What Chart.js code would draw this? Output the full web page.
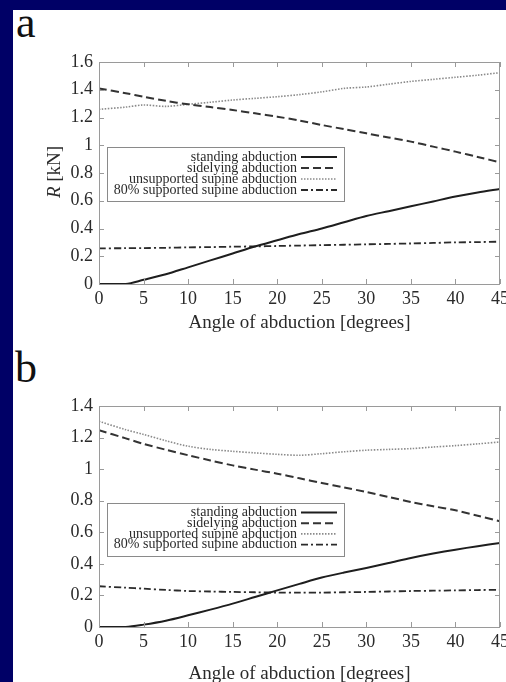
<!DOCTYPE html>
<html>
<head>
<meta charset="utf-8">
<script src="https://cdn.jsdelivr.net/npm/chart.js@4/dist/chart.umd.min.js"></script>
<style>
  html, body { margin: 0; padding: 0; width: 506px; height: 682px; overflow: hidden; background: #000066; }
  #panel { position: absolute; left: 13px; top: 10px; width: 493px; height: 672px; background: #fff; }
  .tag { position: absolute; font-family: "Liberation Serif", serif; font-size: 44px; line-height: 1; color: #111; }
  .box { position: absolute; left: 0; width: 520px; }
</style>
</head>
<body>
<div id="panel"></div>
<div class="tag" style="left:16px; top:1px;">a</div>
<div class="tag" style="left:15px; top:346px;">b</div>
<div class="box" style="top:0; height:340px;"><canvas id="chartA"></canvas></div>
<div class="box" style="top:340px; height:342px;"><canvas id="chartB"></canvas></div>

<script>
// angle of abduction (degrees)
const angles = [0, 3, 5, 7.5, 10, 12.5, 15, 17.5, 20, 22.5, 25, 27.5, 30, 32.5, 35, 37.5, 40, 42.5, 45];
const seriesNames = ['standing abduction', 'sidelying abduction', 'unsupported supine abduction', '80% supported supine abduction'];

// (a) joint reaction force R [kN]
const standingR = [0, 0, 0.03, 0.07, 0.12, 0.17, 0.22, 0.27, 0.315, 0.36, 0.40, 0.445, 0.49, 0.525, 0.56, 0.595, 0.63, 0.66, 0.685];
const sidelyingR = [1.41, 1.375, 1.35, 1.32, 1.295, 1.275, 1.254, 1.23, 1.206, 1.178, 1.146, 1.116, 1.086, 1.056, 1.026, 0.99, 0.954, 0.916, 0.877];
const unsupportedR = [1.259, 1.275, 1.29, 1.28, 1.295, 1.31, 1.326, 1.338, 1.35, 1.365, 1.385, 1.41, 1.42, 1.44, 1.46, 1.475, 1.49, 1.505, 1.523];
const supportedR = [0.257, 0.258, 0.259, 0.261, 0.264, 0.266, 0.269, 0.271, 0.274, 0.277, 0.28, 0.283, 0.286, 0.289, 0.292, 0.296, 0.30, 0.302, 0.305];

// (b) peak contact pressure p_max [MPa]
const standingP = [0, 0, 0.015, 0.04, 0.074, 0.11, 0.148, 0.19, 0.232, 0.273, 0.313, 0.345, 0.374, 0.405, 0.437, 0.465, 0.49, 0.512, 0.532];
const sidelyingP = [1.246, 1.195, 1.16, 1.123, 1.088, 1.055, 1.024, 0.997, 0.971, 0.942, 0.912, 0.884, 0.855, 0.824, 0.792, 0.765, 0.739, 0.705, 0.669];
const unsupportedP = [1.303, 1.25, 1.22, 1.18, 1.145, 1.125, 1.113, 1.103, 1.094, 1.088, 1.098, 1.11, 1.12, 1.125, 1.13, 1.14, 1.149, 1.16, 1.172];
const supportedP = [0.258, 0.249, 0.243, 0.235, 0.228, 0.225, 0.222, 0.22, 0.218, 0.218, 0.218, 0.22, 0.222, 0.225, 0.228, 0.23, 0.232, 0.234, 0.236];

const SERIF = '"Liberation Serif", "DejaVu Serif", serif';

// line styles like the gnuplot terminal
const lineStyles = [
  { color: '#1e1e1e', width: 2, dash: [] },
  { color: '#333', width: 2, dash: [8, 4] },
  { color: '#8a8a8a', width: 1.6, dash: [1.5, 1.5] },
  { color: '#2a2a2a', width: 1.8, dash: [7, 3, 2, 3] }
];

function makeDatasets(lists) {
  return lists.map((vals, i) => ({
    label: seriesNames[i],
    data: angles.map((a, k) => ({ x: a, y: vals[k] })),
    borderColor: lineStyles[i].color,
    borderWidth: lineStyles[i].width,
    borderDash: lineStyles[i].dash,
    pointRadius: 0,
    tension: 0.3,
    fill: false
  }));
}

// frame + inward tick marks on all four sides
const frameTicks = {
  id: 'frameTicks',
  afterDatasetsDraw(chart) {
    const { ctx, chartArea: ca, scales } = chart;
    ctx.save();
    ctx.strokeStyle = '#9a9a9a';
    ctx.lineWidth = 1;
    ctx.strokeRect(ca.left + 0.5, ca.top + 0.5, ca.right - ca.left - 1, ca.bottom - ca.top);
    ctx.beginPath();
    scales.x.ticks.forEach(t => {
      const px = Math.round(scales.x.getPixelForValue(t.value)) + 0.5;
      ctx.moveTo(px, ca.bottom); ctx.lineTo(px, ca.bottom - 5);
      ctx.moveTo(px, ca.top); ctx.lineTo(px, ca.top + 5);
    });
    scales.y.ticks.forEach(t => {
      const py = Math.round(scales.y.getPixelForValue(t.value)) + 0.5;
      ctx.moveTo(ca.left, py); ctx.lineTo(ca.left + 5, py);
      ctx.moveTo(ca.right, py); ctx.lineTo(ca.right - 5, py);
    });
    ctx.stroke();
    ctx.restore();
  }
};

// gnuplot style key: right aligned text, sample line to the right
const gpLegend = {
  id: 'gpLegend',
  afterDraw(chart, args, opts) {
    const { ctx, chartArea: ca } = chart;
    const x0 = ca.left + opts.dx, y0 = ca.top + opts.dy;
    ctx.save();
    ctx.strokeStyle = '#8a8a8a';
    ctx.lineWidth = 1;
    ctx.strokeRect(x0 + 0.5, y0 + 0.5, opts.w, opts.h);
    ctx.font = opts.fontSize + 'px ' + SERIF;
    ctx.textAlign = 'right';
    ctx.textBaseline = 'middle';
    chart.data.datasets.forEach((ds, i) => {
      const y = y0 + opts.first + i * opts.step;
      ctx.fillStyle = '#2a2a2a';
      ctx.fillText(ds.label, x0 + opts.textRight, y);
      ctx.beginPath();
      ctx.setLineDash(ds.borderDash);
      ctx.strokeStyle = ds.borderColor;
      ctx.lineWidth = ds.borderWidth;
      ctx.moveTo(x0 + opts.textRight + 4, y);
      ctx.lineTo(x0 + opts.textRight + 40, y);
      ctx.stroke();
    });
    ctx.restore();
  }
};

// rotated y title with italic symbol and optional subscript
const yTitle = {
  id: 'yTitle',
  afterDraw(chart, args, opts) {
    const { ctx } = chart;
    ctx.save();
    ctx.translate(opts.x, opts.y);
    ctx.rotate(-Math.PI / 2);
    ctx.fillStyle = '#2a2a2a';
    ctx.textBaseline = 'alphabetic';
    const parts = opts.parts;
    const fontOf = p => (p.italic ? 'italic ' : '') + (p.sub ? 14 : opts.size) + 'px ' + SERIF;
    let total = 0;
    parts.forEach(p => { ctx.font = fontOf(p); total += ctx.measureText(p.text).width; });
    let cx = -total / 2;
    parts.forEach(p => {
      ctx.font = fontOf(p);
      ctx.fillText(p.text, cx, p.sub ? 10 : 7);
      cx += ctx.measureText(p.text).width;
    });
    ctx.restore();
  }
};

function makeChart(id, lists, yMax, opt) {
  return new Chart(document.getElementById(id), {
    type: 'line',
    data: { datasets: makeDatasets(lists) },
    plugins: [frameTicks, gpLegend, yTitle],
    options: {
      responsive: true,
      maintainAspectRatio: false,
      animation: false,
      layout: { padding: { top: opt.top, right: 20, left: 0, bottom: 0 } },
      plugins: {
        legend: { display: false },
        tooltip: { enabled: false },
        gpLegend: opt.legend,
        yTitle: opt.yTitle
      },
      scales: {
        x: {
          type: 'linear', min: 0, max: 45,
          grid: { display: false, drawTicks: false },
          border: { display: false },
          afterFit(s) { s.height = opt.xHeight; },
          ticks: { stepSize: 5, padding: opt.xPad, color: '#2a2a2a', font: { family: SERIF, size: 18 } },
          title: { display: true, text: 'Angle of abduction [degrees]', color: '#2a2a2a',
                   font: { family: SERIF, size: 19 }, padding: { top: 0, bottom: opt.titlePad } }
        },
        y: {
          min: 0, max: yMax,
          grid: { display: false, drawTicks: false },
          border: { display: false },
          afterFit(s) { s.width = 99; },
          ticks: { stepSize: 0.2, padding: 6, color: '#2a2a2a', font: { family: SERIF, size: 18 },
                   callback: v => String(+v.toFixed(1)) }
        }
      }
    }
  });
}

makeChart('chartA', [standingR, sidelyingR, unsupportedR, supportedR], 1.6, {
  top: 62, xHeight: 56, xPad: 4, titlePad: 6,
  legend: { dx: 8, dy: 85, w: 237, h: 54, first: 10, step: 11, textRight: 190, fontSize: 14 },
  yTitle: { x: 53, y: 172, size: 19, parts: [{ text: 'R', italic: true }, { text: ' [kN]' }] }
});

makeChart('chartB', [standingP, sidelyingP, unsupportedP, supportedP], 1.4, {
  top: 66, xHeight: 55, xPad: 4, titlePad: -3,
  legend: { dx: 8, dy: 97, w: 237, h: 53, first: 9.5, step: 10.7, textRight: 190, fontSize: 14 },
  yTitle: { x: 48, y: 520, size: 20, parts: [{ text: 'p', italic: true }, { text: 'max', italic: true, sub: true }, { text: '[MPa]' }] }
});
</script>
</body>
</html>
